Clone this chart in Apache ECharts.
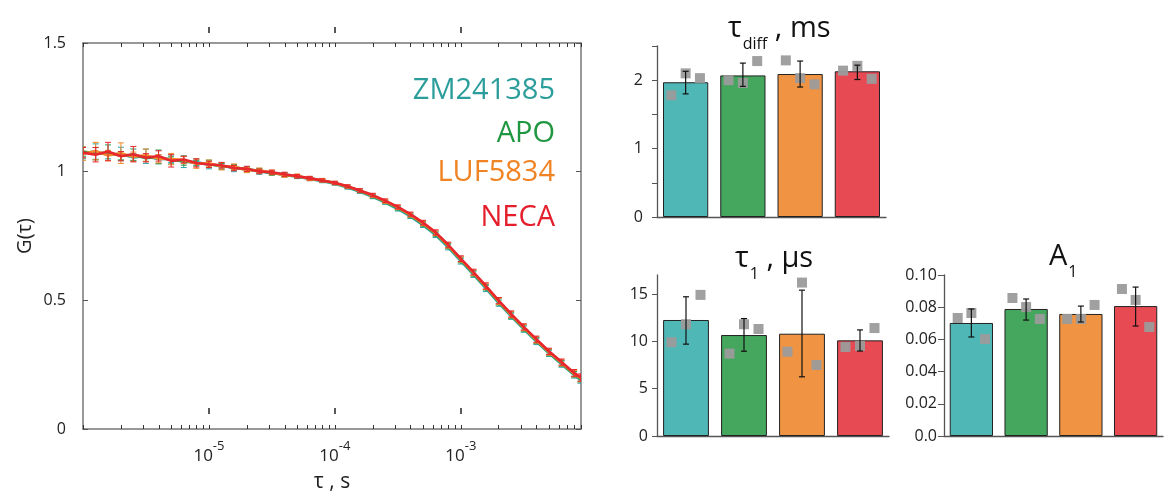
<!DOCTYPE html>
<html><head><meta charset="utf-8">
<script src="https://cdn.jsdelivr.net/npm/echarts@6/dist/echarts.min.js"></script>
<style>html,body{margin:0;padding:0;background:#fff}#c{width:1164px;height:498px}</style>
</head><body><div id="c"></div>
<script>
const groups = ['ZM241385', 'APO', 'LUF5834', 'NECA'];
const lineColors = ['#2fa3a0', '#26994a', '#f08a2b', '#e8262d'];
const legendColors = ['#2b9e9b', '#1f9640', '#f08424', '#e41e2a'];
const barColors = ['#4fb7b5', '#45a65e', '#f09443', '#e84a54'];

// lag times (s)
const lagTimes = [1.00e-6,1.26e-6,1.58e-6,2.00e-6,2.51e-6,3.16e-6,3.98e-6,5.01e-6,6.31e-6,7.94e-6,
  1.00e-5,1.26e-5,1.58e-5,2.00e-5,2.51e-5,3.16e-5,3.98e-5,5.01e-5,6.31e-5,7.94e-5,
  1.00e-4,1.26e-4,1.58e-4,2.00e-4,2.51e-4,3.16e-4,3.98e-4,5.01e-4,6.31e-4,7.94e-4,
  1.00e-3,1.26e-3,1.58e-3,2.00e-3,2.51e-3,3.16e-3,3.98e-3,5.01e-3,6.31e-3,7.94e-3,8.91e-3];

const gZM = [1.072,1.078,1.066,1.069,1.055,1.060,1.048,1.050,1.038,1.037,1.027,1.024,1.013,1.010,1.000,0.996,0.987,0.980,0.972,0.963,0.953,0.938,0.922,0.902,0.880,0.855,0.826,0.792,0.754,0.706,0.652,0.600,0.546,0.489,0.438,0.388,0.340,0.294,0.252,0.210,0.190];
const gAPO = [1.078,1.070,1.074,1.062,1.066,1.052,1.058,1.044,1.043,1.033,1.031,1.020,1.018,1.008,1.004,0.994,0.989,0.982,0.974,0.966,0.956,0.941,0.925,0.905,0.883,0.859,0.830,0.797,0.759,0.711,0.657,0.605,0.551,0.494,0.442,0.392,0.344,0.297,0.255,0.213,0.194];
const gLUF = [1.070,1.080,1.063,1.072,1.058,1.064,1.050,1.049,1.045,1.031,1.033,1.021,1.019,1.006,1.005,0.997,0.986,0.984,0.972,0.967,0.955,0.942,0.926,0.907,0.885,0.861,0.832,0.799,0.761,0.713,0.659,0.607,0.553,0.496,0.444,0.394,0.346,0.299,0.257,0.215,0.197];
const gNECA = [1.074,1.066,1.078,1.060,1.068,1.054,1.061,1.042,1.047,1.034,1.028,1.025,1.014,1.011,1.001,0.998,0.990,0.982,0.975,0.966,0.957,0.943,0.927,0.909,0.887,0.863,0.835,0.802,0.764,0.716,0.662,0.610,0.556,0.499,0.447,0.397,0.349,0.302,0.260,0.218,0.200];

const eZM = [0.022,0.030,0.016,0.026,0.014,0.028,0.018,0.015,0.022,0.012,0.016,0.010,0.013,0.009,0.010,0.008,0.008,0.007,0.007,0.006,0.006,0.006,0.006,0.007,0.007,0.008,0.008,0.009,0.010,0.010,0.011,0.011,0.012,0.012,0.012,0.012,0.012,0.012,0.012,0.012,0.012];
const eAPO = [0.018,0.024,0.030,0.016,0.022,0.012,0.026,0.014,0.018,0.011,0.014,0.012,0.010,0.009,0.009,0.008,0.007,0.007,0.006,0.006,0.006,0.006,0.007,0.007,0.007,0.008,0.009,0.009,0.010,0.010,0.011,0.011,0.011,0.012,0.012,0.012,0.012,0.012,0.011,0.011,0.011];
const eLUF = [0.026,0.034,0.020,0.040,0.018,0.024,0.016,0.022,0.014,0.018,0.012,0.014,0.011,0.010,0.009,0.009,0.008,0.007,0.007,0.007,0.006,0.006,0.006,0.007,0.008,0.008,0.008,0.009,0.009,0.010,0.010,0.011,0.011,0.012,0.012,0.012,0.012,0.012,0.012,0.012,0.013];
const eNECA = [0.020,0.028,0.036,0.018,0.030,0.016,0.020,0.024,0.013,0.016,0.012,0.011,0.010,0.010,0.009,0.008,0.008,0.007,0.007,0.006,0.006,0.006,0.007,0.007,0.007,0.008,0.008,0.009,0.010,0.010,0.011,0.011,0.012,0.012,0.012,0.012,0.012,0.012,0.012,0.013,0.014];

const xMajorTicks = [1e-5, 1e-4, 1e-3];
const xMajorExponents = ['-5', '-4', '-3'];
const gTicks = [0, 0.5, 1, 1.5];

// bar panels
const tdiffMean = [1.97, 2.07, 2.09, 2.13];
const tdiffLow  = [1.80, 1.91, 1.90, 2.01];
const tdiffHigh = [2.13, 2.25, 2.28, 2.22];
const tdiffPts  = [[1.78, 2.10, 2.03], [2.00, 1.96, 2.28], [2.29, 2.03, 1.94], [2.14, 2.21, 2.02]];

const t1Mean = [12.25, 10.66, 10.8, 10.1];
const t1Low  = [9.7, 8.95, 6.25, 8.97];
const t1High = [14.7, 12.4, 15.4, 11.2];
const t1Pts  = [[9.9, 11.8, 14.9], [8.7, 11.8, 11.3], [8.9, 16.2, 7.5], [9.4, 9.5, 11.4]];

const a1Mean = [0.0702, 0.0789, 0.0758, 0.0807];
const a1Low  = [0.0615, 0.0720, 0.0708, 0.0683];
const a1High = [0.0789, 0.0851, 0.0807, 0.0925];
const a1Pts  = [[0.0733, 0.0764, 0.0602], [0.0857, 0.0801, 0.0727], [0.0727, 0.0727, 0.0814], [0.0913, 0.0845, 0.0677]];

const font = "'Open Sans', sans-serif";

// minor tick positions on log axis (1..9 x 10^n)
const minorTicks = [];
for (let p = -6; p <= -3; p++) for (let m = 1; m <= 9; m++) minorTicks.push(+(m + 'e' + p));

const curveG = [gZM, gAPO, gLUF, gNECA];
const curveE = [eZM, eAPO, eLUF, eNECA];

function curveErr(params, api) {
  const x = api.value(0), y = api.value(1), e = api.value(2);
  const top = api.coord([x, y + e]), bot = api.coord([x, y - e]);
  const cw = 3;
  const style = { stroke: api.visual('color'), lineWidth: 1 };
  return { type: 'group', children: [
    { type: 'line', shape: { x1: top[0], y1: top[1], x2: bot[0], y2: bot[1] }, style },
    { type: 'line', shape: { x1: top[0] - cw, y1: top[1], x2: top[0] + cw, y2: top[1] }, style },
    { type: 'line', shape: { x1: bot[0] - cw, y1: bot[1], x2: bot[0] + cw, y2: bot[1] }, style }
  ]};
}
function barErr(params, api) {
  const c = api.value(0);
  const top = api.coord([c, api.value(2)]), bot = api.coord([c, api.value(1)]);
  const cw = 3;
  const style = { stroke: '#111', lineWidth: 1.2 };
  return { type: 'group', children: [
    { type: 'line', shape: { x1: top[0], y1: top[1], x2: bot[0], y2: bot[1] }, style },
    { type: 'line', shape: { x1: top[0] - cw, y1: top[1], x2: top[0] + cw, y2: top[1] }, style },
    { type: 'line', shape: { x1: bot[0] - cw, y1: bot[1], x2: bot[0] + cw, y2: bot[1] }, style }
  ]};
}
function dotItem(params, api) {
  const p = api.coord([api.value(0), api.value(1)]);
  const bw = api.size([1, 0])[0];
  const x = p[0] + (api.value(2) - 1) * 0.25 * bw;
  return { type: 'rect', shape: { x: x - 5, y: p[1] - 5, width: 10, height: 10 },
    style: { fill: '#9b9b9b', opacity: 0.95 } };
}

const series = [];
groups.forEach((g, i) => {
  series.push({
    type: 'custom', name: g, xAxisIndex: 0, yAxisIndex: 0, clip: true,
    itemStyle: { color: lineColors[i] }, renderItem: curveErr, z: 2 + i,
    data: lagTimes.map((t, k) => [t, curveG[i][k], curveE[i][k]])
  });
  series.push({
    type: 'line', name: g, xAxisIndex: 0, yAxisIndex: 0, showSymbol: false, symbol: 'none',
    lineStyle: { color: lineColors[i], width: 2.6 }, itemStyle: { color: lineColors[i] }, z: 2 + i,
    data: lagTimes.map((t, k) => [t, curveG[i][k]])
  });
});

function addBarPanel(xi, yi, mean, low, high, pts) {
  series.push({
    type: 'bar', xAxisIndex: xi, yAxisIndex: yi, barCategoryGap: '21%',
    data: mean.map((v, i) => ({ value: v, itemStyle: { color: barColors[i] } })),
    itemStyle: { borderColor: '#222', borderWidth: 1 }
  });
  const dots = [];
  pts.forEach((arr, i) => arr.forEach((v, j) => dots.push([i, v, j])));
  series.push({ type: 'custom', xAxisIndex: xi, yAxisIndex: yi, renderItem: dotItem, data: dots, z: 3 });
  series.push({ type: 'custom', xAxisIndex: xi, yAxisIndex: yi, renderItem: barErr,
    data: mean.map((v, i) => [i, low[i], high[i]]), z: 4 });
}
addBarPanel(4, 2, tdiffMean, tdiffLow, tdiffHigh, tdiffPts);
addBarPanel(5, 3, t1Mean, t1Low, t1High, t1Pts);
addBarPanel(6, 4, a1Mean, a1Low, a1High, a1Pts);

const frameLine = { onZero: false, lineStyle: { color: '#777', width: 1.5 } };
const logBase = { type: 'log', logBase: 10, min: 1e-6, max: 9e-3, gridIndex: 0, splitLine: { show: false }, minorTick: { show: false } };
const barAxisLine = { show: true, onZero: false, lineStyle: { color: '#555', width: 1.3 } };
const barLabel = { fontSize: 16, color: '#222', fontFamily: font };
function catAxis(gi) {
  return { type: 'category', gridIndex: gi, data: groups, axisLine: barAxisLine,
    axisTick: { show: false }, axisLabel: { show: false }, splitLine: { show: false } };
}
const titleRich = {
  t: { fontSize: 29, fontFamily: font, fontWeight: 'normal', color: '#111', verticalAlign: 'top', lineHeight: 34 },
  s: { fontSize: 16, fontFamily: font, fontWeight: 'normal', color: '#111', verticalAlign: 'top', lineHeight: 16, padding: [22, 0, 0, 1] }
};

const legends = groups.map((g, i) => ({
  data: [{ name: g, textStyle: { color: legendColors[i] } }],
  right: 609, top: [76, 119, 158, 203][i], orient: 'vertical', icon: 'none',
  itemWidth: 0, itemHeight: 14, padding: 0, selectedMode: false,
  textStyle: { fontSize: 29, fontFamily: font }
}));

const option = {
  animation: false,
  backgroundColor: '#fff',
  textStyle: { fontFamily: font },
  title: [
    { text: '{t|τ}{s|diff}{t| , ms}', left: 728, top: 14, padding: 0, textStyle: { fontWeight: 'normal', rich: titleRich } },
    { text: '{t|τ}{s|1}{t| , μs}', left: 735, top: 244, padding: 0, textStyle: { fontWeight: 'normal', rich: titleRich } },
    { text: '{t|A}{s|1}', left: 1049, top: 242, padding: 0, textStyle: { fontWeight: 'normal', rich: titleRich } }
  ],
  legend: legends,
  grid: [
    { left: 83, right: 583, top: 43, bottom: 60 },
    { left: 657, right: 278, top: 46, bottom: 281 },
    { left: 657, right: 275, top: 275, bottom: 62 },
    { left: 944, right: 1, top: 275, bottom: 62 }
  ],
  xAxis: [
    Object.assign({}, logBase, {
      position: 'bottom', axisLine: frameLine,
      axisTick: { inside: true, length: 4, customValues: minorTicks, lineStyle: { color: '#333', width: 1 } },
      axisLabel: {
        customValues: xMajorTicks, interval: 0, margin: 11, hideOverlap: false,
        formatter: v => { const k = xMajorTicks.findIndex(t => Math.abs(t - v) / t < 1e-6); return '{b|10}{s|' + (k >= 0 ? xMajorExponents[k] : '') + '}'; },
        rich: {
          b: { fontSize: 17, color: '#222', fontFamily: font, verticalAlign: 'top', lineHeight: 18, padding: [8, 0, 0, 0] },
          s: { fontSize: 13, color: '#222', fontFamily: font, verticalAlign: 'top', lineHeight: 14 }
        }
      },
      name: 'τ , s', nameLocation: 'middle', nameGap: 43,
      nameTextStyle: { fontSize: 21, color: '#222', fontFamily: font }
    }),
    Object.assign({}, logBase, {
      position: 'top', axisLine: frameLine,
      axisTick: { inside: true, length: 4, customValues: minorTicks, lineStyle: { color: '#333', width: 1 } },
      axisLabel: { show: false }
    }),
    Object.assign({}, logBase, {
      position: 'top', offset: 10, axisLine: { show: false, onZero: false },
      axisTick: { inside: false, length: 6, customValues: xMajorTicks, lineStyle: { color: '#222', width: 1.5 } },
      axisLabel: { show: false }
    }),
    Object.assign({}, logBase, {
      position: 'bottom', offset: -15, axisLine: { show: false, onZero: false },
      axisTick: { inside: true, length: 6, customValues: xMajorTicks, lineStyle: { color: '#222', width: 1.5 } },
      axisLabel: { show: false }
    }),
    catAxis(1), catAxis(2), catAxis(3)
  ],
  yAxis: [
    { type: 'value', gridIndex: 0, min: 0, max: 1.5, interval: 0.5, position: 'left',
      axisLine: { show: true, onZero: false, lineStyle: { color: '#777', width: 1.5 } },
      axisTick: { show: true, inside: true, length: 5, lineStyle: { color: '#555' } },
      axisLabel: { margin: 17, fontSize: 16, color: '#222', fontFamily: font, formatter: v => String(v) },
      splitLine: { show: false },
      name: 'G(τ)', nameLocation: 'middle', nameGap: 48,
      nameTextStyle: { fontSize: 20, color: '#222', fontFamily: font } },
    { type: 'value', gridIndex: 0, min: 0, max: 1.5, interval: 0.5, position: 'right',
      axisLine: { show: true, onZero: false, lineStyle: { color: '#777', width: 1.5 } },
      axisTick: { show: true, inside: true, length: 5, lineStyle: { color: '#555' } },
      axisLabel: { show: false }, splitLine: { show: false } },
    { type: 'value', gridIndex: 1, min: 0, max: 2.5, interval: 0.5,
      axisLine: barAxisLine, axisTick: { show: true, length: 5, lineStyle: { color: '#555' } },
      axisLabel: Object.assign({ margin: 14, formatter: v => (Math.abs(v - Math.round(v)) < 1e-9 ? String(Math.round(v)) : '') }, barLabel),
      splitLine: { show: false } },
    { type: 'value', gridIndex: 2, min: 0, max: 17, interval: 5,
      axisLine: barAxisLine, axisTick: { show: true, length: 5, lineStyle: { color: '#555' } },
      axisLabel: Object.assign({ margin: 9, showMaxLabel: false, formatter: v => (v % 5 === 0 ? String(v) : '') }, barLabel),
      splitLine: { show: false } },
    { type: 'value', gridIndex: 3, min: 0, max: 0.1, interval: 0.02,
      axisLine: barAxisLine, axisTick: { show: true, length: 6, lineStyle: { color: '#555' } },
      axisLabel: Object.assign({ margin: 7, formatter: v => (v === 0 ? '0.0' : v.toFixed(2)) }, barLabel),
      splitLine: { show: false } }
  ],
  series
};
const chart = echarts.init(document.getElementById('c'), null, { renderer: 'canvas' });
chart.setOption(option);
</script>
</body></html>
